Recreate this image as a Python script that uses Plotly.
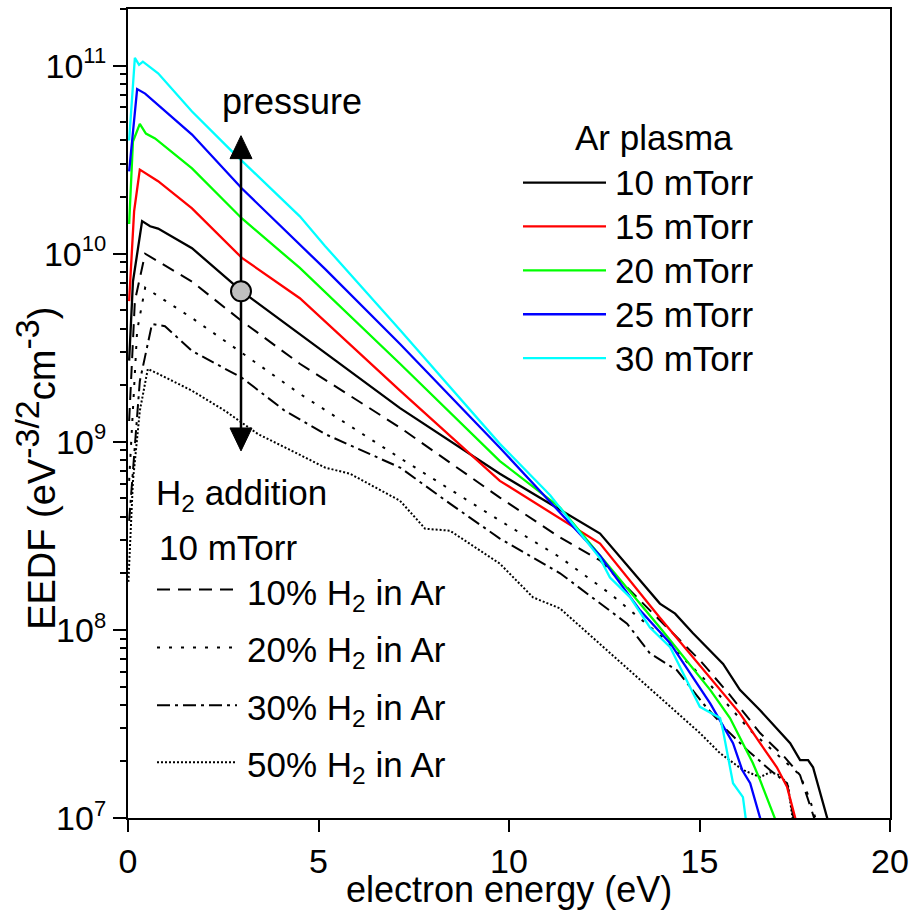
import plotly.graph_objects as go
import math

# ---------------- data ----------------
x_ar10 = [0.03, 0.13, 0.37, 0.58, 0.79, 1.68, 2.99, 4.51, 7.14, 9.76, 11.08, 12.39, 13.96, 14.36, 14.83, 15.62, 16.06, 16.59, 17.38, 17.64, 17.85, 17.98, 18.37]
y_ar10 = [2.7e9, 7.1e9, 1.49e10, 1.4e10, 1.36e10, 1.07e10, 6.3e9, 3.74e9, 1.51e9, 6.76e8, 4.69e8, 3.25e8, 1.38e8, 1.22e8, 9.6e7, 6.6e7, 4.8e7, 3.74e7, 2.5e7, 2.03e7, 2.03e7, 1.86e7, 9.7e6]

x_ar15 = [0.03, 0.16, 0.31, 0.47, 0.79, 1.68, 2.99, 4.51, 7.14, 9.76, 12.39, 13.96, 15.28, 16.06, 16.59, 17.03, 17.30, 17.53]
y_ar15 = [5.6e9, 1.68e10, 2.8e10, 2.67e10, 2.43e10, 1.74e10, 9.5e9, 5.8e9, 1.87e9, 6.2e8, 2.88e8, 1.16e8, 5.6e7, 3.6e7, 2.5e7, 1.86e7, 1.46e7, 9.7e6]

x_ar20 = [0.03, 0.13, 0.31, 0.47, 0.71, 1.68, 2.99, 4.51, 7.14, 9.76, 11.34, 12.65, 13.96, 15.28, 15.80, 16.40, 16.59, 17.0]
y_ar20 = [1.44e10, 3.95e10, 4.9e10, 4.35e10, 4.1e10, 2.84e10, 1.54e10, 8.4e9, 2.6e9, 7.9e8, 4.47e8, 2.15e8, 1.03e8, 4.8e7, 3.4e7, 1.96e7, 1.59e7, 9.7e6]

x_ar25 = [0.03, 0.24, 0.45, 0.79, 1.68, 2.99, 4.51, 5.17, 7.14, 9.76, 12.39, 13.44, 14.23, 15.28, 15.88, 16.12, 16.33, 16.61]
y_ar25 = [2.74e10, 7.5e10, 7.1e10, 6.2e10, 4.3e10, 2.22e10, 1.12e10, 8.3e9, 3.31e9, 9.3e8, 2.48e8, 1.27e8, 8.5e7, 4.07e7, 2.5e7, 1.8e7, 1.53e7, 9.7e6]

x_ar30 = [0.03, 0.18, 0.29, 0.39, 0.79, 1.68, 2.73, 4.51, 5.17, 7.14, 9.76, 11.08, 12.39, 12.65, 13.18, 13.70, 14.23, 15.01, 15.54, 15.62, 15.88, 16.14, 16.22]
y_ar30 = [4.0e10, 1.10e11, 1.01e11, 1.05e11, 9.1e10, 5.7e10, 3.5e10, 1.58e10, 1.1e10, 3.93e9, 9.75e8, 5.2e8, 2.4e8, 1.9e8, 1.49e8, 1.03e8, 8.1e7, 3.9e7, 3.4e7, 2.9e7, 1.53e7, 1.29e7, 9.7e6]

x_h10 = [0.03, 0.18, 0.45, 0.79, 1.68, 2.99, 4.51, 7.14, 9.76, 11.34, 12.39, 13.70, 15.01, 15.80, 16.59, 17.24, 17.64, 18.03]
y_h10 = [1.29e9, 5.6e9, 1.0e10, 9.1e9, 7.1e9, 4.38e9, 2.6e9, 1.19e9, 5.05e8, 3.1e8, 2.34e8, 1.27e8, 6.9e7, 4.5e7, 2.83e7, 2.1e7, 1.69e7, 9.7e6]

x_h20 = [0.03, 0.24, 0.45, 0.79, 1.68, 2.99, 4.51, 7.14, 9.76, 11.34, 12.65, 13.96, 15.28, 16.33, 17.11, 17.64, 17.90, 18.06]
y_h20 = [6.2e8, 3.9e9, 6.6e9, 5.95e9, 4.55e9, 2.97e9, 1.8e9, 8.2e8, 3.81e8, 2.43e8, 1.56e8, 9.4e7, 5.1e7, 2.93e7, 2.1e7, 1.69e7, 1.25e7, 9.7e6]

x_h30 = [0.03, 0.31, 0.63, 0.97, 1.68, 2.99, 4.12, 5.17, 7.14, 8.45, 9.76, 11.34, 13.10, 13.70, 14.41, 15.09, 15.72, 16.25, 16.85, 17.30, 17.48]
y_h30 = [3.8e8, 2.1e9, 4.23e9, 4.12e9, 3.04e9, 2.19e9, 1.46e9, 1.10e9, 7.3e8, 4.69e8, 3.06e8, 2.0e8, 1.08e8, 7.5e7, 6.1e7, 4.07e7, 2.93e7, 2.3e7, 1.8e7, 1.53e7, 9.7e6]

x_h50 = [0.01, 0.13, 0.31, 0.52, 0.79, 1.68, 2.55, 3.41, 4.30, 5.17, 5.83, 7.14, 7.80, 8.45, 9.76, 10.63, 11.34, 12.20, 13.10, 13.96, 15.01, 15.54, 16.14, 16.59, 16.85, 17.11, 17.32, 17.45]
y_h50 = [1.8e8, 6.2e8, 1.46e9, 2.44e9, 2.3e9, 1.87e9, 1.46e9, 1.10e9, 8.96e8, 7.3e8, 6.76e8, 4.86e8, 3.45e8, 3.37e8, 2.25e8, 1.49e8, 1.3e8, 9.1e7, 6.3e7, 4.38e7, 2.83e7, 2.21e7, 1.8e7, 1.65e7, 1.75e7, 1.69e7, 1.5e7, 9.7e6]

ar_names = ["10 mTorr", "15 mTorr", "20 mTorr", "25 mTorr", "30 mTorr"]
h2_names = ["10% H<sub>2</sub> in Ar", "20% H<sub>2</sub> in Ar", "30% H<sub>2</sub> in Ar", "50% H<sub>2</sub> in Ar"]

x_ticks = [0, 5, 10, 15, 20]
y_ticks = [1e7, 1e8, 1e9, 1e10, 1e11]
y_exponents = ["7", "8", "9", "10", "11"]
y_minor = [m * 10 ** e for e in range(7, 12) for m in range(2, 10)]

# ---------------- styling ----------------
FONT = "Liberation Sans, Arial, sans-serif"
FS = 35
ar_colors = ["#000000", "#FF0000", "#00FF00", "#0000FF", "#00FFFF"]
h2_dashes = ["13px,8px", "3px,9px", "13px,5px,3px,5px", "2px,2px"]

W, H = 916, 911
L, R, T, B = 128, 26, 7, 93
PW, PH = W - L - R, H - T - B


def px(p):
    return (p - L) / PW


def py(p):
    return (H - B - p) / PH


def txt(text, x, y, xanchor="left", size=FS, angle=0):
    return dict(text=text, x=px(x), y=py(y), xref="paper", yref="paper",
                xanchor=xanchor, yanchor="middle", showarrow=False, textangle=angle,
                font=dict(family=FONT, size=size, color="black"))


y_ticktext = ["10<sup><span style='font-size:22px'>%s</span></sup>" % e for e in y_exponents]

fig = go.Figure()

ar_x = [x_ar10, x_ar15, x_ar20, x_ar25, x_ar30]
ar_y = [y_ar10, y_ar15, y_ar20, y_ar25, y_ar30]
h2_x = [x_h10, x_h20, x_h30, x_h50]
h2_y = [y_h10, y_h20, y_h30, y_h50]

for i, (xs, ys, name) in enumerate(zip(h2_x, h2_y, h2_names)):
    fig.add_trace(go.Scatter(x=xs, y=ys, mode="lines", name=name, showlegend=False,
                             line=dict(color="black", width=2, dash=h2_dashes[i])))
for i, (xs, ys, name) in enumerate(zip(ar_x, ar_y, ar_names)):
    fig.add_trace(go.Scatter(x=xs, y=ys, mode="lines", name=name, showlegend=False,
                             line=dict(color=ar_colors[i], width=2.3)))

shapes = []
annotations = []

# manual legend: Ar plasma
annotations.append(txt("Ar plasma", 654, 136, xanchor="center"))
ar_leg_y = [181, 225, 269, 313, 357]
for i, name in enumerate(ar_names):
    yy = py(ar_leg_y[i])
    shapes.append(dict(type="line", xref="paper", yref="paper", x0=px(523), x1=px(606), y0=yy, y1=yy,
                       line=dict(color=ar_colors[i], width=2.3)))
    annotations.append(txt(name, 613, ar_leg_y[i]))

# manual legend: H2 addition
annotations.append(txt("H<sub>2</sub> addition", 154, 494))
annotations.append(txt("10 mTorr", 157, 547))
h2_leg_y = [589, 647, 705, 762]
for i, name in enumerate(h2_names):
    yy = py(h2_leg_y[i])
    shapes.append(dict(type="line", xref="paper", yref="paper", x0=px(157), x1=px(237), y0=yy, y1=yy,
                       line=dict(color="black", width=2, dash=h2_dashes[i])))
    annotations.append(txt(name, 245, h2_leg_y[i] + 5))

# pressure arrow
annotations.append(txt("pressure", 292, 100, xanchor="center", size=36))
ax_px = 241
shapes.append(dict(type="line", xref="paper", yref="paper", x0=px(ax_px), x1=px(ax_px),
                   y0=py(150), y1=py(435), line=dict(color="black", width=2.5)))
shapes.append(dict(type="path", xref="paper", yref="paper",
                   path=f"M {px(ax_px-11)},{py(157)} L {px(ax_px+11)},{py(157)} L {px(ax_px)},{py(134)} Z",
                   fillcolor="black", line=dict(color="black", width=1)))
shapes.append(dict(type="path", xref="paper", yref="paper",
                   path=f"M {px(ax_px-11)},{py(427)} L {px(ax_px+11)},{py(427)} L {px(ax_px)},{py(450)} Z",
                   fillcolor="black", line=dict(color="black", width=1)))
shapes.append(dict(type="circle", xref="paper", yref="paper",
                   x0=px(ax_px-10), x1=px(ax_px+10), y0=py(300), y1=py(280),
                   fillcolor="#C0C0C0", line=dict(color="black", width=2)))

# axis titles
annotations.append(txt("electron energy (eV)", 509, 890, xanchor="center", size=36))
annotations.append(txt("EEDF (eV<sup><span style='font-size:34px'>-3/2</span></sup>cm<sup><span style='font-size:34px'>-3</span></sup>)",
                       36, 468, xanchor="center", size=38, angle=-90))

fig.update_layout(
    width=W, height=H,
    margin=dict(l=L, r=R, t=T, b=B),
    paper_bgcolor="white", plot_bgcolor="white",
    showlegend=False,
    shapes=shapes, annotations=annotations,
    font=dict(family=FONT, color="black"),
)
fig.update_xaxes(range=[0, 20], tickmode="array", tickvals=x_ticks,
                 ticks="outside", ticklen=12, tickwidth=2, tickcolor="black",
                 showline=True, linewidth=2, linecolor="black", mirror=True,
                 showgrid=False, zeroline=False,
                 tickfont=dict(family=FONT, size=34, color="black"))
fig.update_yaxes(type="log", range=[7, math.log10(2e11)], tickmode="array",
                 tickvals=y_ticks, ticktext=y_ticktext,
                 ticks="outside", ticklen=13, tickwidth=2, tickcolor="black",
                 minor=dict(tickmode="array", tickvals=y_minor, ticks="outside", ticklen=6,
                            tickwidth=2, tickcolor="black", showgrid=False),
                 showline=True, linewidth=2, linecolor="black", mirror=True,
                 showgrid=False, zeroline=False,
                 tickfont=dict(family=FONT, size=34, color="black"))

fig.write_html("out.html")
